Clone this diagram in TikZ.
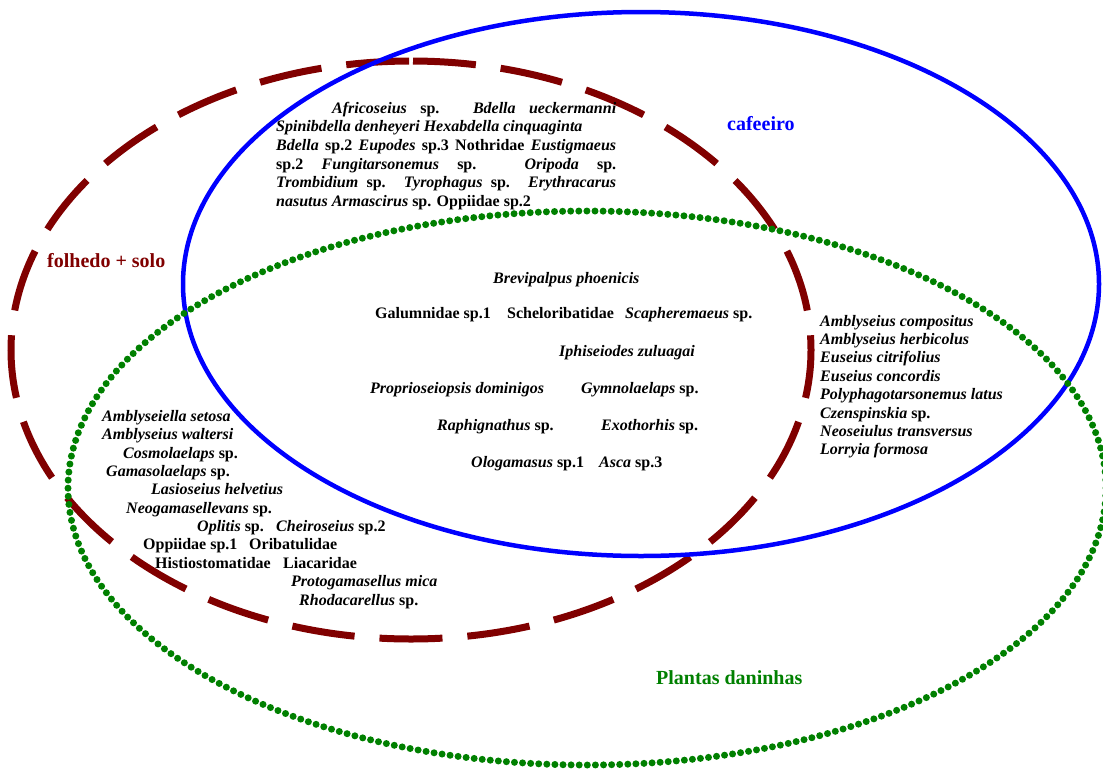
\documentclass[tikz,border=0pt]{standalone}
\usepackage{fontspec}
\setmainfont{Liberation Serif}
\definecolor{maroonc}{RGB}{128,0,0}
\definecolor{greenc}{RGB}{0,128,0}
\definecolor{bluec}{RGB}{0,0,255}
\begin{document}
\begin{tikzpicture}[x=1pt,y=-1pt,
  sp/.style={anchor=base west, inner sep=0pt, font=\bfseries\fontsize{16}{18.4}\selectfont},
  setlab/.style={anchor=base west, inner sep=0pt, font=\bfseries\fontsize{20}{23}\selectfont},
  soil/.style={draw=maroonc, line width=7pt, dash pattern=on 63pt off 25pt, dash phase=86pt},
  coffee/.style={draw=bluec, line width=4.5pt},
  weeds/.style={draw=greenc, line width=7pt, line cap=round, dash pattern=on 0pt off 8.1pt}]
\useasboundingbox (0,0) rectangle (1103,769);
% sets
\draw[soil] (411,61) arc[start angle=90, end angle=-270, x radius=400pt, y radius=289pt];
\draw[coffee] (641,284) ellipse[x radius=458pt, y radius=272pt];
\draw[weeds] (587,488) ellipse[x radius=519pt, y radius=277pt];
% set labels
\node[setlab, text=maroonc] (lsoil) at (47,267) {folhedo + solo};
\node[setlab, text=bluec] (lcoffee) at (727,130) {cafeeiro};
\node[setlab, text=greenc] (lweeds) at (656,684) {Plantas daninhas};
% top block (folhedo + solo and cafeeiro)
\node[sp] (t1) at (332,113) {\makebox[284pt][s]{\textit{Africoseius} sp. \textit{Bdella} \textit{ueckermanni}}};
\node[sp] (t2) at (276,131.7) {\textit{Spinibdella denheyeri} \textit{Hexabdella cinquaginta}};
\node[sp] (t3) at (276,150.4) {\makebox[340pt][s]{\textit{Bdella} sp.2 \textit{Eupodes} sp.3 Nothridae \textit{Eustigmaeus}}};
\node[sp] (t4) at (276,169.1) {\makebox[340pt][s]{sp.2 \textit{Fungitarsonemus} sp. \textit{Oripoda} sp.}};
\node[sp] (t5) at (276,187.8) {\makebox[340pt][s]{\textit{Trombidium} sp. \textit{Tyrophagus} sp. \textit{Erythracarus}}};
\node[sp] (t6) at (276,206.5) {\textit{nasutus Armascirus} sp. Oppiidae sp.2};
% center block (all three)
\node[sp] (c1) at (493,283) {\textit{Brevipalpus phoenicis}};
\node[sp] (c2a) at (375,318) {Galumnidae sp.1};
\node[sp] (c2b) at (507,318) {Scheloribatidae};
\node[sp] (c2c) at (625,318) {\textit{Scapheremaeus} sp.};
\node[sp] (c3) at (559,356) {\textit{Iphiseiodes zuluagai}};
\node[sp] (c4a) at (370,393) {\textit{Proprioseiopsis dominigos}};
\node[sp] (c4b) at (581,393) {\textit{Gymnolaelaps} sp.};
\node[sp] (c5a) at (437,430) {\textit{Raphignathus} sp.};
\node[sp] (c5b) at (601,430) {\textit{Exothorhis} sp.};
\node[sp] (c6a) at (471,467) {\textit{Ologamasus} sp.1};
\node[sp] (c6b) at (599,467) {\textit{Asca} sp.3};
% left block (folhedo + solo and plantas daninhas)
\node[sp] (l1) at (102,421) {\textit{Amblyseiella setosa}};
\node[sp] (l2) at (102,439) {\textit{Amblyseius waltersi}};
\node[sp] (l3) at (123,458) {\textit{Cosmolaelaps} sp.};
\node[sp] (l4) at (106,476) {\textit{Gamasolaelaps} sp.};
\node[sp] (l5) at (151,494) {\textit{Lasioseius helvetius}};
\node[sp] (l6) at (126,513) {\textit{Neogamasellevans} sp.};
\node[sp] (l7a) at (197,531) {\textit{Oplitis} sp.};
\node[sp] (l7b) at (276,531) {\textit{Cheiroseius} sp.2};
\node[sp] (l8a) at (143,549) {Oppiidae sp.1};
\node[sp] (l8b) at (249,549) {Oribatulidae};
\node[sp] (l9a) at (155,568) {Histiostomatidae};
\node[sp] (l9b) at (283,568) {Liacaridae};
\node[sp] (l10) at (291,586) {\textit{Protogamasellus mica}};
\node[sp] (l11) at (299,605) {\textit{Rhodacarellus} sp.};
% right block (cafeeiro and plantas daninhas)
\node[sp] (r1) at (820,326) {\textit{Amblyseius compositus}};
\node[sp] (r2) at (820,344.4) {\textit{Amblyseius herbicolus}};
\node[sp] (r3) at (820,362.8) {\textit{Euseius citrifolius}};
\node[sp] (r4) at (820,381.2) {\textit{Euseius concordis}};
\node[sp] (r5) at (820,399.6) {\textit{Polyphagotarsonemus latus}};
\node[sp] (r6) at (820,418) {\textit{Czenspinskia} sp.};
\node[sp] (r7) at (820,436.4) {\textit{Neoseiulus transversus}};
\node[sp] (r8) at (820,454.8) {\textit{Lorryia formosa}};
\end{tikzpicture}
\end{document}
